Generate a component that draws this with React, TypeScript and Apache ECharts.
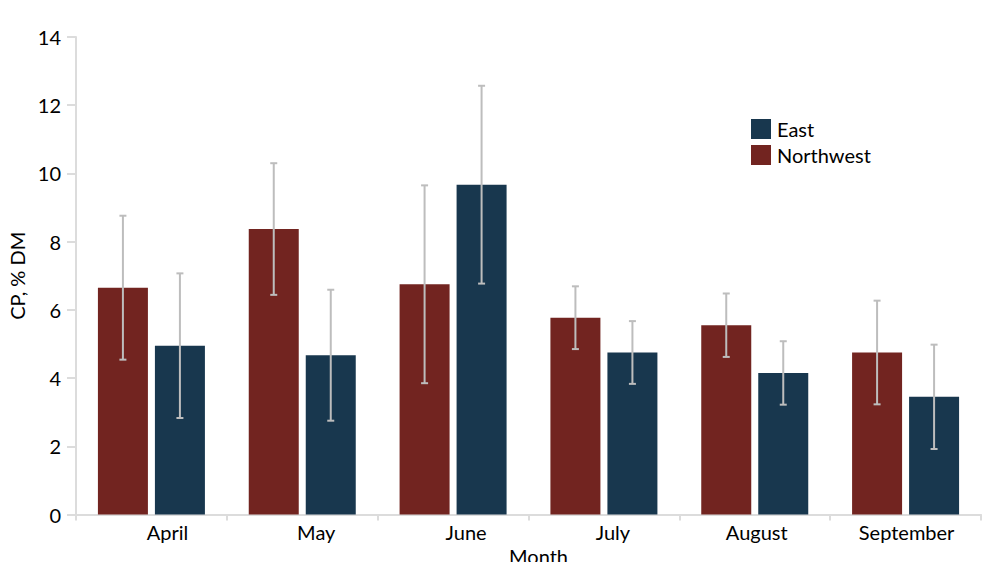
import React, { useEffect, useRef } from "react";
import * as echarts from "echarts";

// Crude protein by month and region, with standard deviations
const months = ["April", "May", "June", "July", "August", "September"];
const northwest = [6.65, 8.37, 6.75, 5.77, 5.55, 4.75];
const northwestSd = [2.11, 1.93, 2.9, 0.92, 0.93, 1.52];
const east = [4.95, 4.67, 9.67, 4.75, 4.15, 3.45];
const eastSd = [2.12, 1.92, 2.9, 0.92, 0.93, 1.53];
const yTicks = [0, 2, 4, 6, 8, 10, 12, 14];

const NW_COLOR = "#722420";
const EAST_COLOR = "#18374e";
const ERR_COLOR = "#bdbdbd";
const FONT = "Lato, 'Noto Sans', sans-serif";

const BAR_WIDTH = 50;
const BAR_GAP_PX = 7;
// horizontal shift of each month label (px)
const labelShift = [16, 14, 13, 9, 2, 1];

function errorSeries(name: string, values: number[], sds: number[], offset: number) {
  return {
    type: "custom",
    name,
    z: 10,
    data: values.map((v, i) => [i, v - sds[i], v + sds[i]]),
    encode: { x: 0, y: [1, 2] },
    renderItem: (_params: any, api: any) => {
      const i = api.value(0);
      const lo = api.coord([i, api.value(1)]);
      const hi = api.coord([i, api.value(2)]);
      const x = lo[0] + offset;
      const cap = 3.5;
      const style = { stroke: ERR_COLOR, lineWidth: 2 };
      return {
        type: "group",
        children: [
          { type: "line", shape: { x1: x, y1: hi[1], x2: x, y2: lo[1] }, style },
          { type: "line", shape: { x1: x - cap, y1: hi[1], x2: x + cap, y2: hi[1] }, style },
          { type: "line", shape: { x1: x - cap, y1: lo[1], x2: x + cap, y2: lo[1] }, style },
        ],
      };
    },
  };
}

export default function App() {
  const ref = useRef<HTMLDivElement>(null);

  useEffect(() => {
    if (!ref.current) return;
    const chart = echarts.init(ref.current, null, { renderer: "svg" });
    const half = (BAR_WIDTH + BAR_GAP_PX) / 2;
    const rich: Record<string, any> = {};
    labelShift.forEach((s, i) => {
      rich["m" + i] = {
        fontFamily: FONT,
        fontSize: 20,
        color: "#000",
        padding: [0, 0, 0, s * 2],
      };
    });

    chart.setOption({
      animation: false,
      textStyle: { fontFamily: FONT },
      grid: {
        left: 76,
        right: 17,
        top: 37,
        bottom: 47.5,
        containLabel: false,
        outerBoundsMode: "none",
      },
      legend: {
        data: ["East", "Northwest"],
        orient: "vertical",
        left: 751,
        top: 119,
        padding: 0,
        icon: "rect",
        itemWidth: 20,
        itemHeight: 20,
        itemGap: 6,
        textStyle: { fontFamily: FONT, fontSize: 20, color: "#000", padding: [0, 0, 0, 1] },
      },
      xAxis: {
        type: "category",
        data: months,
        name: "Month",
        nameLocation: "middle",
        nameGap: 31,
        nameTextStyle: { fontFamily: FONT, fontSize: 20, color: "#000", padding: [0, 0, 0, 20] },
        axisLine: { lineStyle: { color: "#dcdcdc", width: 2 } },
        axisTick: { show: true, length: 6, lineStyle: { color: "#dcdcdc", width: 2 } },
        axisLabel: {
          margin: 7,
          formatter: (v: string, i: number) => `{m${i}|${v}}`,
          rich,
        },
        splitLine: { show: false },
      },
      yAxis: {
        type: "value",
        min: yTicks[0],
        max: yTicks[yTicks.length - 1],
        interval: 2,
        name: "CP, % DM",
        nameLocation: "middle",
        nameGap: 42,
        nameTextStyle: { fontFamily: FONT, fontSize: 20, color: "#000" },
        axisLine: { show: true, lineStyle: { color: "#dcdcdc", width: 2 } },
        axisTick: { show: true, length: 9, lineStyle: { color: "#dcdcdc", width: 2 } },
        axisLabel: { margin: 15, fontFamily: FONT, fontSize: 20, color: "#000" },
        splitLine: { show: false },
      },
      series: [
        {
          type: "bar",
          name: "Northwest",
          data: northwest,
          barWidth: BAR_WIDTH,
          barGap: (BAR_GAP_PX / BAR_WIDTH) * 100 + "%",
          itemStyle: { color: NW_COLOR },
        },
        {
          type: "bar",
          name: "East",
          data: east,
          barWidth: BAR_WIDTH,
          barGap: (BAR_GAP_PX / BAR_WIDTH) * 100 + "%",
          itemStyle: { color: EAST_COLOR },
        },
        errorSeries("Northwest SD", northwest, northwestSd, -half),
        errorSeries("East SD", east, eastSd, half),
      ],
    });
    return () => chart.dispose();
  }, []);

  return (
    <div
      ref={ref}
      style={{ position: "fixed", left: 0, top: 0, width: 998, height: 562, background: "#fff" }}
    />
  );
}
